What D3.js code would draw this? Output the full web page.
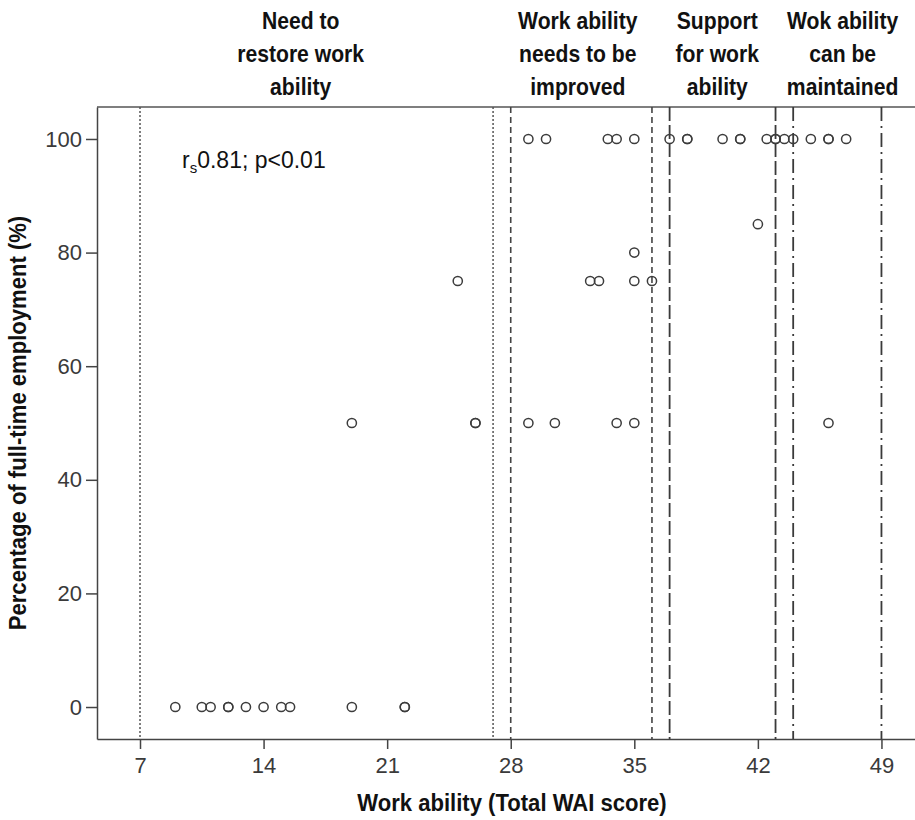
<!DOCTYPE html>
<html>
<head>
<meta charset="utf-8">
<script src="https://cdn.jsdelivr.net/npm/d3@7"></script>
<style>
  html, body { margin: 0; padding: 0; background: #fff; }
  svg { display: block; }
  text { font-family: "Liberation Sans", Arial, Helvetica, sans-serif; }
</style>
</head>
<body>
<div id="chart"></div>
<script>
// ---- data ----
const xTickValues = [7, 14, 21, 28, 35, 42, 49];
const yTickValues = [0, 20, 40, 60, 80, 100];

// WAI score of each respondent and their percentage of full-time employment
const waiScore = [
  29, 30, 33.5, 34, 35, 37, 38, 38, 40, 41, 41, 42.5, 43, 43, 43.5, 44, 45, 46, 46, 47,
  42,
  35,
  25, 32.5, 33, 35, 36,
  19, 26, 26, 29, 30.5, 34, 35, 46,
  9, 10.5, 11, 12, 12, 13, 14, 15, 15.5, 19, 22, 22
];
const employmentPct = [
  100, 100, 100, 100, 100, 100, 100, 100, 100, 100, 100, 100, 100, 100, 100, 100, 100, 100, 100, 100,
  85,
  80,
  75, 75, 75, 75, 75,
  50, 50, 50, 50, 50, 50, 50, 50,
  0, 0, 0, 0, 0, 0, 0, 0, 0, 0, 0, 0
];

// category cut-off lines (WAI score) and the category each belongs to
const cutoffValues = [7, 27, 28, 36, 37, 43, 44, 49];
const cutoffCategory = [0, 0, 1, 1, 2, 2, 3, 3];

// category headers
const categoryLabels = [
  ["Need to", "restore work", "ability"],
  ["Work ability", "needs to be", "improved"],
  ["Support", "for work", "ability"],
  ["Wok ability", "can be", "maintained"]
];
const categoryCenters = [16.1, 31.8, 39.7, 46.8];

const xTitle = "Work ability (Total WAI score)";
const yTitle = "Percentage of full-time employment (%)";

// ---- drawing ----
const W = 915, H = 820;
const L = 97, R = 915, T = 107, B = 739;

const svg = d3.select("#chart").append("svg").attr("width", W).attr("height", H);

const x = d3.scaleLinear().domain([4.564, 50.9]).range([L, R]);
const y = d3.scaleLinear().domain([-5.63, 105.63]).range([B, T]);

const dashStyles = [
  { dash: "2,2", width: 1.5, color: "#555" },
  { dash: "6,4", width: 1.6, color: "#444" },
  { dash: "14,4", width: 1.8, color: "#3a3a3a" },
  { dash: "14,5,2,5", width: 1.8, color: "#3a3a3a" }
];

// top border
svg.append("line")
  .attr("x1", L).attr("x2", R).attr("y1", T).attr("y2", T)
  .attr("stroke", "#555").attr("stroke-width", 1.5);

// cut-off lines
svg.append("g").selectAll("line")
  .data(cutoffValues)
  .join("line")
  .attr("x1", d => x(d)).attr("x2", d => x(d))
  .attr("y1", T).attr("y2", B)
  .attr("stroke", (d, i) => dashStyles[cutoffCategory[i]].color)
  .attr("stroke-width", (d, i) => dashStyles[cutoffCategory[i]].width)
  .attr("stroke-dasharray", (d, i) => dashStyles[cutoffCategory[i]].dash);

// axes
const xAxis = svg.append("g")
  .attr("transform", `translate(0,${B})`)
  .call(d3.axisBottom(x).tickValues(xTickValues).tickSize(10).tickSizeOuter(0).tickPadding(8));
const yAxis = svg.append("g")
  .attr("transform", `translate(${L},0)`)
  .call(d3.axisLeft(y).tickValues(yTickValues).tickSize(11).tickSizeOuter(0).tickPadding(4));

[xAxis, yAxis].forEach(a => {
  a.select(".domain").attr("stroke", "#444").attr("stroke-width", 1.5);
  a.selectAll(".tick line").attr("stroke", "#444").attr("stroke-width", 1.5);
  a.selectAll(".tick text").attr("fill", "#3a3a3a").attr("font-size", 22)
    .attr("font-family", "'Liberation Sans', Arial, sans-serif");
});

// points
svg.append("g").selectAll("circle")
  .data(waiScore.map((w, i) => [w, employmentPct[i]]))
  .join("circle")
  .attr("cx", d => x(d[0]))
  .attr("cy", d => y(d[1]))
  .attr("r", 4.6)
  .attr("fill", "none")
  .attr("stroke", "#3c3c3c")
  .attr("stroke-width", 1.5);

// category headers
const hdr = svg.append("g");
categoryLabels.forEach((lines, i) => {
  lines.forEach((t, j) => {
    hdr.append("text")
      .attr("transform", `translate(${x(categoryCenters[i])},${29 + j * 33}) scale(0.92,1)`)
      .attr("text-anchor", "middle")
      .attr("font-size", 23)
      .attr("font-weight", "bold")
      .attr("fill", "#111")
      .text(t);
  });
});

// annotation
const ann = svg.append("text")
  .attr("x", 182).attr("y", 168)
  .attr("font-size", 23)
  .attr("fill", "#111");
ann.append("tspan").text("r");
ann.append("tspan").attr("font-size", 15).attr("dy", 5).text("s");
ann.append("tspan").attr("dy", -5).text("0.81; p<0.01");

// axis titles
svg.append("text")
  .attr("transform", `translate(512,811) scale(0.96,1)`)
  .attr("text-anchor", "middle")
  .attr("font-size", 23).attr("font-weight", "bold").attr("fill", "#111")
  .text(xTitle);

svg.append("text")
  .attr("transform", `translate(26,${(T + B) / 2}) rotate(-90) scale(0.96,1)`)
  .attr("text-anchor", "middle")
  .attr("font-size", 23).attr("font-weight", "bold").attr("fill", "#111")
  .text(yTitle);
</script>
</body>
</html>
